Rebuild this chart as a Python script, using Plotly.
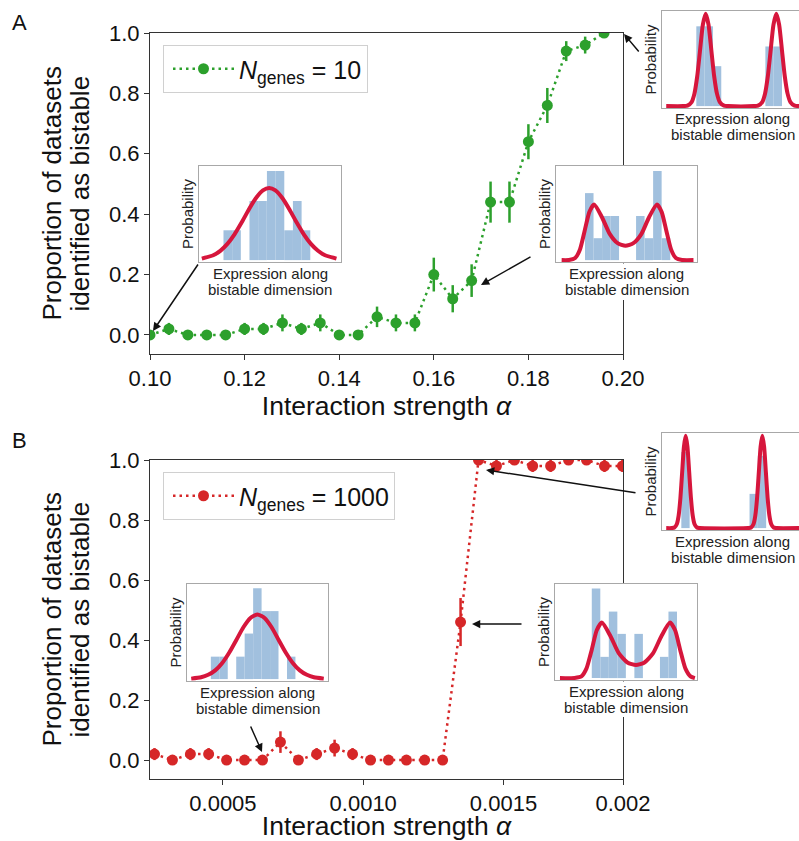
import plotly.graph_objects as go

W, H = 799, 841
FONT = "Liberation Sans, Arial, sans-serif"
GREEN = "#2ca02c"
RED = "#d62728"
CURVE = "#d6163c"
BAR = "#a1c0de"

# ---------------- Panel A data (N_genes = 10) ----------------
alpha_A = [0.100, 0.104, 0.108, 0.112, 0.116, 0.120, 0.124, 0.128, 0.132, 0.136,
           0.140, 0.144, 0.148, 0.152, 0.156, 0.160, 0.164, 0.168, 0.172, 0.176,
           0.180, 0.184, 0.188, 0.192, 0.196]
prop_A = [0.00, 0.02, 0.00, 0.00, 0.00, 0.02, 0.02, 0.04, 0.02, 0.04,
          0.00, 0.00, 0.06, 0.04, 0.04, 0.20, 0.12, 0.18, 0.44, 0.44,
          0.64, 0.76, 0.94, 0.96, 1.00]
err_A = [0.00, 0.02, 0.00, 0.00, 0.00, 0.02, 0.02, 0.028, 0.02, 0.028,
         0.00, 0.00, 0.034, 0.028, 0.028, 0.056, 0.045, 0.054, 0.068, 0.068,
         0.058, 0.058, 0.033, 0.028, 0.00]

# ---------------- Panel B data (N_genes = 1000) ----------------
alpha_B = [0.000256, 0.000320, 0.000384, 0.000449, 0.000513, 0.000577, 0.000641,
           0.000705, 0.000769, 0.000834, 0.000898, 0.000962, 0.001026, 0.001090,
           0.001154, 0.001219, 0.001283, 0.001347, 0.001411, 0.001475, 0.001539,
           0.001604, 0.001668, 0.001732, 0.001796, 0.001860, 0.001924]
prop_B = [0.02, 0.00, 0.02, 0.02, 0.00, 0.00, 0.00, 0.06, 0.00, 0.02,
          0.04, 0.02, 0.00, 0.00, 0.00, 0.00, 0.00, 0.46, 1.00, 0.98,
          1.00, 0.98, 0.98, 1.00, 1.00, 0.98, 0.98]
err_B = [0.02, 0.00, 0.02, 0.02, 0.00, 0.00, 0.00, 0.036, 0.00, 0.02,
         0.028, 0.02, 0.00, 0.00, 0.00, 0.00, 0.00, 0.08, 0.00, 0.02,
         0.00, 0.02, 0.02, 0.00, 0.00, 0.02, 0.02]

# ---------------- tick labels ----------------
y_ticks = [0.0, 0.2, 0.4, 0.6, 0.8, 1.0]
y_tick_text = ["0.0", "0.2", "0.4", "0.6", "0.8", "1.0"]
x_ticks_A = [0.10, 0.12, 0.14, 0.16, 0.18, 0.20]
x_tick_text_A = ["0.10", "0.12", "0.14", "0.16", "0.18", "0.20"]
x_ticks_B = [0.0005, 0.0010, 0.0015, 0.001926]
x_tick_text_B = ["0.0005", "0.0010", "0.0015", "0.002"]

# ---------------- inset histograms and fitted densities ----------------
# A, left inset (unimodal)
insA1_bin_centers = [0.203, 0.264, 0.325, 0.386, 0.447, 0.509, 0.570, 0.631, 0.692, 0.753]
insA1_bin_heights = [0.317, 0.317, 0.0, 0.628, 0.628, 0.948, 0.948, 0.317, 0.628, 0.317]
insA1_bin_width = 0.0612
insA1_curve_x = [0.02, 0.10, 0.15, 0.20, 0.25, 0.30, 0.35, 0.40, 0.45, 0.494,
                 0.538, 0.588, 0.638, 0.688, 0.738, 0.788, 0.838, 0.888, 0.968]
insA1_curve_y = [0.016, 0.052, 0.099, 0.172, 0.274, 0.399, 0.535, 0.657, 0.741, 0.766,
                 0.741, 0.657, 0.535, 0.399, 0.274, 0.172, 0.099, 0.052, 0.016]

# A, middle inset (broad bimodal)
insA2_bin_centers = [0.236, 0.296, 0.357, 0.417, 0.478, 0.538, 0.598, 0.659, 0.719, 0.780]
insA2_bin_heights = [0.712, 0.233, 0.469, 0.469, 0.0, 0.0, 0.469, 0.233, 0.948, 0.233]
insA2_bin_width = 0.0604
insA2_curve_x = [0.04, 0.092, 0.136, 0.170, 0.203, 0.237, 0.270, 0.326, 0.382, 0.437, 0.493,
                 0.549, 0.605, 0.660, 0.716, 0.749, 0.783, 0.816, 0.850, 0.894, 0.975]
insA2_curve_y = [0.0, 0.001, 0.022, 0.114, 0.310, 0.513, 0.590, 0.456, 0.276, 0.180, 0.153,
                 0.180, 0.276, 0.456, 0.590, 0.513, 0.310, 0.114, 0.022, 0.001, 0.0]

# A, top-right inset (separated bimodal)
insA3_bin_centers = [0.273, 0.332, 0.391, 0.763, 0.822]
insA3_bin_heights = [0.839, 0.839, 0.420, 0.627, 0.627]
insA3_bin_width = 0.059
insA3_curve_x = [0.03, 0.15, 0.18, 0.21, 0.23, 0.25, 0.27, 0.29, 0.31, 0.33, 0.35, 0.37,
                 0.39, 0.41, 0.44, 0.47, 0.651, 0.681, 0.711, 0.731, 0.751, 0.771, 0.791,
                 0.811, 0.831, 0.851, 0.871, 0.891, 0.911, 0.941, 0.972]
insA3_curve_y = [0.0, 0.0, 0.005, 0.043, 0.131, 0.315, 0.588, 0.856, 0.970, 0.856, 0.588, 0.315,
                 0.131, 0.043, 0.005, 0.0, 0.0, 0.005, 0.043, 0.131, 0.315, 0.588, 0.856,
                 0.970, 0.856, 0.588, 0.315, 0.131, 0.043, 0.005, 0.0]

# B, left inset (unimodal)
insB1_bin_centers = [0.199, 0.259, 0.319, 0.379, 0.439, 0.499, 0.559, 0.619, 0.679, 0.739]
insB1_bin_heights = [0.236, 0.236, 0.0, 0.236, 0.479, 0.955, 0.715, 0.715, 0.0, 0.236]
insB1_bin_width = 0.060
insB1_curve_x = [0.03, 0.10, 0.15, 0.20, 0.25, 0.30, 0.35, 0.40, 0.45, 0.50,
                 0.55, 0.60, 0.65, 0.70, 0.75, 0.80, 0.85, 0.90, 0.97]
insB1_curve_y = [0.005, 0.019, 0.045, 0.092, 0.170, 0.280, 0.412, 0.545, 0.643, 0.680,
                 0.643, 0.545, 0.412, 0.280, 0.170, 0.092, 0.045, 0.019, 0.005]

# B, middle inset (broad bimodal)
insB2_bin_centers = [0.289, 0.349, 0.409, 0.469, 0.529, 0.589, 0.649, 0.709, 0.769, 0.829]
insB2_bin_heights = [0.951, 0.226, 0.707, 0.470, 0.0, 0.470, 0.0, 0.0, 0.226, 0.707]
insB2_bin_width = 0.060
insB2_curve_x = [0.035, 0.138, 0.186, 0.222, 0.258, 0.294, 0.330, 0.390, 0.450, 0.510,
                 0.570, 0.630, 0.690, 0.750, 0.810, 0.846, 0.882, 0.918, 0.954, 0.985]
insB2_curve_y = [0.0, 0.002, 0.018, 0.103, 0.297, 0.508, 0.590, 0.448, 0.262, 0.166,
                 0.140, 0.166, 0.262, 0.448, 0.590, 0.508, 0.297, 0.103, 0.018, 0.0]

# B, top-right inset (sharp bimodal)
insB3_bin_centers = [0.1665, 0.6505, 0.7095]
insB3_bin_heights = [0.80, 0.36, 0.76]
insB3_bin_width = 0.059
insB3_curve_x = [0.03, 0.068, 0.088, 0.1055, 0.118, 0.1305, 0.143, 0.1555, 0.168, 0.1805,
                 0.193, 0.2055, 0.218, 0.2305, 0.248, 0.268, 0.612, 0.632, 0.6495, 0.662,
                 0.6745, 0.687, 0.6995, 0.712, 0.7245, 0.737, 0.7495, 0.762, 0.7745, 0.792,
                 0.812, 0.972]
insB3_curve_y = [0.0, 0.0, 0.006, 0.043, 0.131, 0.315, 0.588, 0.856, 0.970, 0.856,
                 0.588, 0.315, 0.131, 0.043, 0.006, 0.0, 0.0, 0.006, 0.043, 0.131,
                 0.315, 0.588, 0.856, 0.970, 0.856, 0.588, 0.315, 0.131, 0.043, 0.006,
                 0.0, 0.0]


def dx(p):
    return p / W


def dy(p):
    return 1 - p / H


fig = go.Figure()

# ---------------- main traces ----------------
fig.add_trace(go.Scatter(
    x=alpha_A, y=prop_A, mode="lines+markers",
    error_y=dict(type="data", array=err_A, color=GREEN, thickness=2.5, width=0),
    line=dict(color=GREEN, width=2.5, dash="2.5px,4px"),
    marker=dict(size=11, color=GREEN),
    name="<i>N</i><sub>genes</sub> = 10", legend="legend",
    xaxis="x", yaxis="y"))

fig.add_trace(go.Scatter(
    x=alpha_B, y=prop_B, mode="lines+markers",
    error_y=dict(type="data", array=err_B, color=RED, thickness=2.5, width=0),
    line=dict(color=RED, width=2.5, dash="2.5px,4px"),
    marker=dict(size=11, color=RED),
    name="<i>N</i><sub>genes</sub> = 1000", legend="legend2",
    xaxis="x2", yaxis="y2"))

# ---------------- insets ----------------
insets = [
    (3, (199, 166, 341, 262), 1.0, True, insA1_bin_centers, insA1_bin_heights, insA1_bin_width, insA1_curve_x, insA1_curve_y),
    (4, (556, 166, 697, 262), 1.0, True, insA2_bin_centers, insA2_bin_heights, insA2_bin_width, insA2_curve_x, insA2_curve_y),
    (5, (662, 11, 799, 108), 0.972, False, insA3_bin_centers, insA3_bin_heights, insA3_bin_width, insA3_curve_x, insA3_curve_y),
    (6, (187, 584, 328, 681), 1.0, True, insB1_bin_centers, insB1_bin_heights, insB1_bin_width, insB1_curve_x, insB1_curve_y),
    (7, (555, 584, 697, 680), 1.0, True, insB2_bin_centers, insB2_bin_heights, insB2_bin_width, insB2_curve_x, insB2_curve_y),
    (8, (662, 433, 799, 530), 0.972, False, insB3_bin_centers, insB3_bin_heights, insB3_bin_width, insB3_curve_x, insB3_curve_y),
]

layout_axes = {}
annotations = []
shapes = []

for n, box, xmax, right_frame, bc, bh, bw, cx, cy in insets:
    fig.add_trace(go.Bar(x=bc, y=bh, width=bw, marker=dict(color=BAR, line=dict(width=0)),
                         xaxis=f"x{n}", yaxis=f"y{n}", showlegend=False, hoverinfo="skip"))
    fig.add_trace(go.Scatter(x=cx, y=cy, mode="lines",
                             line=dict(color=CURVE, width=4, shape="spline", smoothing=0.6),
                             xaxis=f"x{n}", yaxis=f"y{n}", showlegend=False, hoverinfo="skip",
                             cliponaxis=False))
    l, t, r, b = box
    layout_axes[f"xaxis{n}"] = dict(domain=[dx(l), dx(r)], anchor=f"y{n}", range=[0, xmax],
                                    showline=True, linecolor="#a8a8a8", linewidth=1, mirror=True,
                                    showticklabels=False, ticks="", showgrid=False, zeroline=False,
                                    fixedrange=True, automargin=False)
    layout_axes[f"yaxis{n}"] = dict(domain=[dy(b), dy(t)], anchor=f"x{n}", range=[-0.02, 1.0],
                                    showline=True, linecolor="#a8a8a8", linewidth=1,
                                    mirror=right_frame,
                                    showticklabels=False, ticks="", showgrid=False, zeroline=False,
                                    fixedrange=True, automargin=False)
    cxp = (l + (r if right_frame else l + 141)) / 2
    annotations.append(dict(text="Probability", x=dx(l - 12), y=dy((t + b) / 2), xref="paper", yref="paper",
                            textangle=-90, showarrow=False, xanchor="center", yanchor="middle",
                            font=dict(size=15, family=FONT, color="#222")))
    annotations.append(dict(text="Expression along", x=dx(cxp), y=dy(b + 11), xref="paper", yref="paper",
                            showarrow=False, xanchor="center", yanchor="middle",
                            font=dict(size=15, family=FONT, color="#222")))
    annotations.append(dict(text="bistable dimension", x=dx(cxp), y=dy(b + 27), xref="paper", yref="paper",
                            showarrow=False, xanchor="center", yanchor="middle",
                            font=dict(size=15, family=FONT, color="#222")))

# white patches behind the labels of the middle insets (they sit over the main frame)
for l, t, r, b in [(548, 263.5, 705, 300), (547, 681.5, 705, 717)]:
    shapes.append(dict(type="rect", xref="paper", yref="paper", x0=dx(l), x1=dx(r), y0=dy(b), y1=dy(t),
                       fillcolor="white", line=dict(width=0), layer="above"))

# ---------------- main axes ----------------
main_axis = dict(showline=True, linecolor="#333", linewidth=1, mirror=True, ticks="outside",
                 ticklen=5, tickwidth=1, tickcolor="#333", showgrid=False, zeroline=False,
                 automargin=False, tickfont=dict(size=22, family=FONT, color="#111"))

layout_axes["xaxis"] = dict(main_axis, domain=[dx(150), dx(623)], anchor="y", range=[0.10, 0.20],
                            tickvals=x_ticks_A, ticktext=x_tick_text_A,
                            title=dict(text="Interaction strength <i>α</i>", standoff=6,
                                       font=dict(size=26.5, family=FONT, color="#111")))
layout_axes["yaxis"] = dict(main_axis, domain=[dy(354), dy(33)], anchor="x", range=[-0.063, 1.0],
                            tickvals=y_ticks, ticktext=y_tick_text)
layout_axes["xaxis2"] = dict(main_axis, domain=[dx(150), dx(623)], anchor="y2", range=[0.00024, 0.001926],
                             tickvals=x_ticks_B, ticktext=x_tick_text_B,
                             title=dict(text="Interaction strength <i>α</i>", standoff=8,
                                        font=dict(size=26.5, family=FONT, color="#111")))
layout_axes["yaxis2"] = dict(main_axis, domain=[dy(779), dy(460)], anchor="x2", range=[-0.063, 1.0],
                             tickvals=y_ticks, ticktext=y_tick_text)

# ---------------- y titles and panel letters ----------------
for yc in [(33 + 354) / 2, (460 + 779) / 2]:
    annotations.append(dict(text="Proportion of datasets", x=dx(51), y=dy(yc), xref="paper", yref="paper",
                            textangle=-90, showarrow=False, xanchor="center", yanchor="middle",
                            font=dict(size=26, family=FONT, color="#111")))
    annotations.append(dict(text="identified as bistable", x=dx(79), y=dy(yc), xref="paper", yref="paper",
                            textangle=-90, showarrow=False, xanchor="center", yanchor="middle",
                            font=dict(size=26, family=FONT, color="#111")))
annotations.append(dict(text="A", x=dx(19), y=dy(22), xref="paper", yref="paper", showarrow=False,
                        xanchor="center", yanchor="middle",
                        font=dict(size=22, family=FONT, color="#111")))
annotations.append(dict(text="B", x=dx(19), y=dy(441), xref="paper", yref="paper", showarrow=False,
                        xanchor="center", yanchor="middle",
                        font=dict(size=22, family=FONT, color="#111")))

# ---------------- arrows (head px, tail px) ----------------
arrows = [((153, 331), (199, 263)),
          ((481, 285), (532, 256)),
          ((624, 34), (640, 53)),
          ((262, 752), (250, 725)),
          ((472, 624), (523, 624)),
          ((486, 470), (637, 493))]
for (hx, hy), (tx, ty) in arrows:
    annotations.append(dict(text="", x=dx(hx), y=dy(hy), xref="paper", yref="paper",
                            ax=tx - hx, ay=ty - hy, showarrow=True, arrowhead=2, arrowsize=1.1,
                            arrowwidth=1.5, arrowcolor="#111"))

legend_common = dict(xanchor="left", yanchor="top", bgcolor="white", bordercolor="#d0d0d0",
                     borderwidth=1, font=dict(size=25, family=FONT, color="#111"),
                     indentation=4, itemwidth=61)

fig.update_layout(
    template="none",
    width=W, height=H, autosize=False,
    margin=dict(l=0, r=0, t=0, b=0, pad=0),
    paper_bgcolor="white", plot_bgcolor="white",
    font=dict(family=FONT, color="#111"),
    showlegend=True,
    legend=dict(legend_common, x=dx(163), y=dy(45)),
    legend2=dict(legend_common, x=dx(163), y=dy(472)),
    annotations=annotations,
    shapes=shapes,
    **layout_axes,
)

fig.write_html("out.html")
